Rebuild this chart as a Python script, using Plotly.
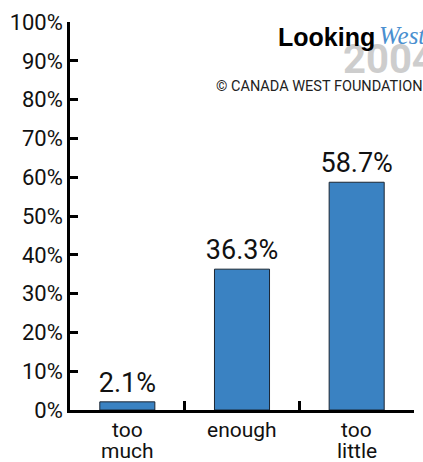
import plotly.graph_objects as go

categories = ["too much", "enough", "too little"]
cat_line1 = ["too", "enough", "too"]
cat_line2 = ["much", "", "little"]
values = [2.1, 36.3, 58.7]
labels = ["2.1%", "36.3%", "58.7%"]
y_ticks = list(range(0, 101, 10))
y_tick_text = [f"{v}%" for v in y_ticks]

FONT = "Roboto"
PLOT_H = 462 - 22 - 52


def py(pixel_y):
    # pixel row -> paper coordinate
    return (410 - pixel_y) / PLOT_H


fig = go.Figure(go.Bar(
    x=categories, y=values, text=labels, textposition="outside",
    constraintext="none",
    textfont=dict(family=FONT, size=27, color="#111"),
    marker=dict(color="#3a82c2", line=dict(color="#1b2633", width=1)),
    width=0.48, cliponaxis=False,
))

fig.update_layout(
    width=423, height=462,
    margin=dict(l=70, r=9, t=22, b=52),
    plot_bgcolor="white", paper_bgcolor="white",
    showlegend=False,
    font=dict(family=FONT, color="#111"),
)
fig.update_xaxes(
    showline=True, linecolor="black", linewidth=2.5,
    ticks="inside", tickson="boundaries", ticklen=9, tickwidth=2.5, tickcolor="black",
    showticklabels=False,
    showgrid=False, zeroline=False, automargin=False,
)
fig.update_yaxes(
    range=[0, 100], tickvals=y_ticks, ticktext=y_tick_text,
    showline=True, linecolor="black", linewidth=2.5,
    ticks="inside", ticklen=8, tickwidth=2.5, tickcolor="black",
    tickfont=dict(family=FONT, size=22, color="#111"),
    showgrid=False, zeroline=False, automargin=False,
)

# Category labels (two lines, tight spacing)
for cat, l1, l2 in zip(categories, cat_line1, cat_line2):
    fig.add_annotation(xref="x", yref="paper", x=cat, y=py(430), yanchor="middle",
                       text=l1, showarrow=False, font=dict(family=FONT, size=21, color="#111"))
    if l2:
        fig.add_annotation(xref="x", yref="paper", x=cat, y=py(451), yanchor="middle",
                           text=l2, showarrow=False, font=dict(family=FONT, size=21, color="#111"))

# Logo
fig.add_annotation(xref="paper", yref="paper", x=(341 - 70) / 344, y=py(59), xanchor="left", yanchor="middle",
                   text="<b>2004</b>", showarrow=False,
                   font=dict(family=FONT, size=40, color="#cdcdcd"))
fig.add_annotation(xref="paper", yref="paper", x=(377 - 70) / 344, y=py(37), xanchor="right", yanchor="middle",
                   text="<b>Looking</b>", showarrow=False,
                   font=dict(family="Liberation Sans", size=25, color="black"))
fig.add_annotation(xref="paper", yref="paper", x=(377 - 70) / 344, y=py(35), xanchor="left", yanchor="middle",
                   text="<i>West</i>", showarrow=False,
                   font=dict(family="Liberation Serif", size=25, color="#4a8fd0"))
fig.add_annotation(xref="paper", yref="paper", x=(214 - 70) / 344, y=py(87), xanchor="left", yanchor="middle",
                   text="© CANADA WEST FOUNDATION", showarrow=False,
                   font=dict(family=FONT, size=14.5, color="#222"))

fig.write_html("out.html", config={"displayModeBar": False},
               post_script="document.body.style.margin='0';")
